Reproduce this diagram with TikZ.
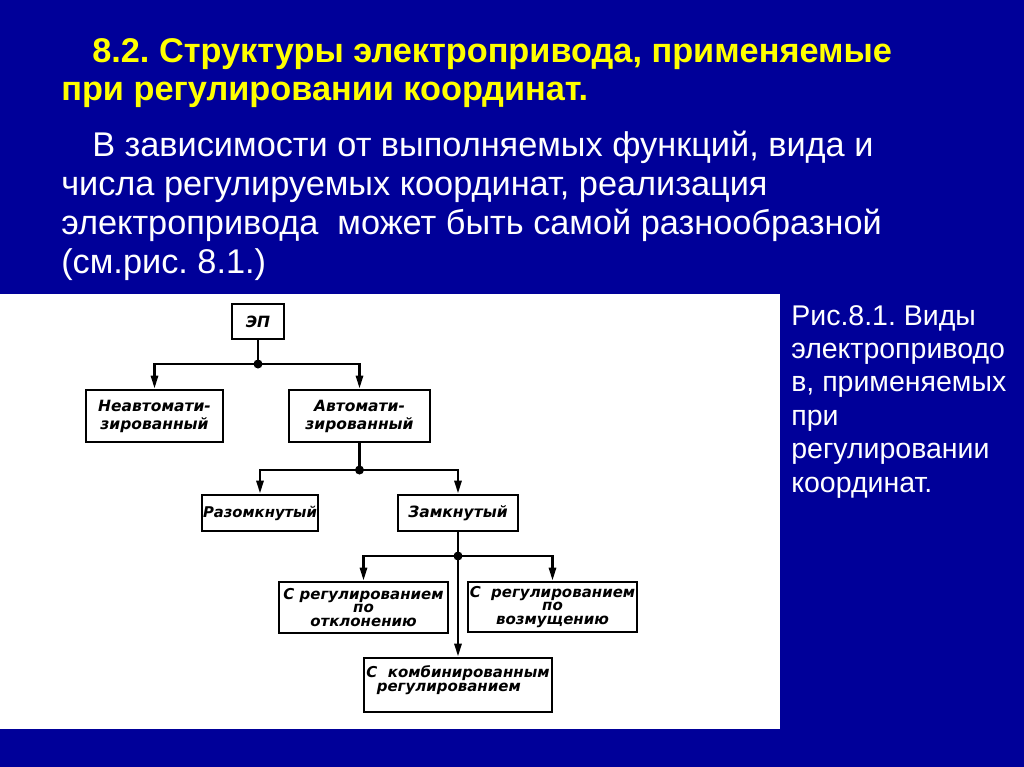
\documentclass[tikz,border=0pt]{standalone}
\usepackage{fontspec}
\setmainfont{Liberation Sans}
\newfontfamily\draftfont{DejaVu Sans}
\usepackage{xcolor}
\usepackage{tikz}
\usetikzlibrary{arrows.meta}
\definecolor{slideblue}{RGB}{0,0,153}
\definecolor{titleyellow}{RGB}{255,255,0}
\frenchspacing
\tikzset{
  box/.style={draw, rectangle, inner sep=0pt, align=center, font=\draftfont\bfseries\itshape\fontsize{15.5}{18}\selectfont},
  tightbox/.style={box, font=\draftfont\bfseries\itshape\fontsize{15}{13.5}\selectfont},
  arr/.style={-{Triangle[length=13pt,width=7pt]}},
  titletext/.style={anchor=base west, inner sep=0pt, text=titleyellow, font=\bfseries\fontsize{34.3}{38}\selectfont},
  bodytext/.style={anchor=base west, inner sep=0pt, text=white, font=\fontsize{34.3}{39}\selectfont},
  captext/.style={anchor=base west, inner sep=0pt, text=white, font=\fontsize{28.5}{34}\selectfont}
}

\begin{document}
\begin{tikzpicture}[x=1pt,y=-1pt,line width=2.6pt]
        \useasboundingbox (0,0) rectangle (1024,767);
        \fill[slideblue] (0,0) rectangle (1024,767);
        \fill[white] (0,294) rectangle (780,729);
        \node[titletext] (t1) at (91,63) {8.2. Структуры электропривода, применяемые};
        \node[titletext] (t2) at (60,101) {при регулировании координат.};
        \node[bodytext] (b1) at (91,157) {В зависимости от выполняемых функций, вида и};
        \node[bodytext] (b2) at (60,196) {числа регулируемых координат, реализация};
        \node[bodytext] (b3) at (60,235) {электропривода\ \ может быть самой разнообразной};
        \node[bodytext] (b4) at (60,273) {(см.рис. 8.1.)};
        \node[captext] (c1) at (790,325) {Рис.8.1. Виды};
        \node[captext] (c2) at (790,358.4) {электроприводо};
        \node[captext] (c3) at (790,391.8) {в, применяемых};
        \node[captext] (c4) at (790,425.2) {при};
        \node[captext] (c5) at (790,458.6) {регулировании};
        \node[captext] (c6) at (790,492) {координат.};
        \node[box, minimum width=52pt, minimum height=35pt] (ep) at (258,321.5) {ЭП};
        \node[box, minimum width=137pt, minimum height=52pt] (nauto) at (154.5,416) {Неавтомати-\\зированный};
        \node[box, minimum width=141pt, minimum height=52pt] (auto) at (359.5,416) {Автомати-\\зированный};
        \node[box, minimum width=116pt, minimum height=36pt, font=\draftfont\bfseries\itshape\fontsize{14.8}{18}\selectfont] (razomk) at (260,513) {Разомкнутый};
        \node[box, minimum width=120pt, minimum height=36pt] (zamk) at (458,513) {Замкнутый};
        \node[tightbox, minimum width=169pt, minimum height=51pt] (otkl) at (363.5,607.5) {С регулированием\\по\\отклонению};
        \node[tightbox, minimum width=169pt, minimum height=50pt] (vozm) at (552.5,607) {С\ \ регулированием\\по\\возмущению};
        \node[tightbox, minimum width=188pt, minimum height=54pt, align=left] (komb) at (458,685) {С\ \ комбинированным\\\ \ регулированием\\[-1pt]};
        \coordinate (j1) at (258,364);
        \coordinate (j2) at (359.5,470);
        \coordinate (j3) at (458,556);
        \draw (ep) -- (j1);
        \draw[arr] (j1) -| (nauto);
        \draw[arr] (j1) -| (auto);
        \draw (auto) -- (j2);
        \draw[arr] (j2) -| (razomk);
        \draw[arr] (j2) -| (zamk);
        \draw (zamk) -- (j3);
        \draw[arr] (j3) -| (otkl);
        \draw[arr] (j3) -| (vozm);
        \draw[arr] (j3) -- (komb);
        \fill (j1) circle (4.5pt);
        \fill (j2) circle (4.5pt);
        \fill (j3) circle (4.5pt);
    \end{tikzpicture}
\end{document}
